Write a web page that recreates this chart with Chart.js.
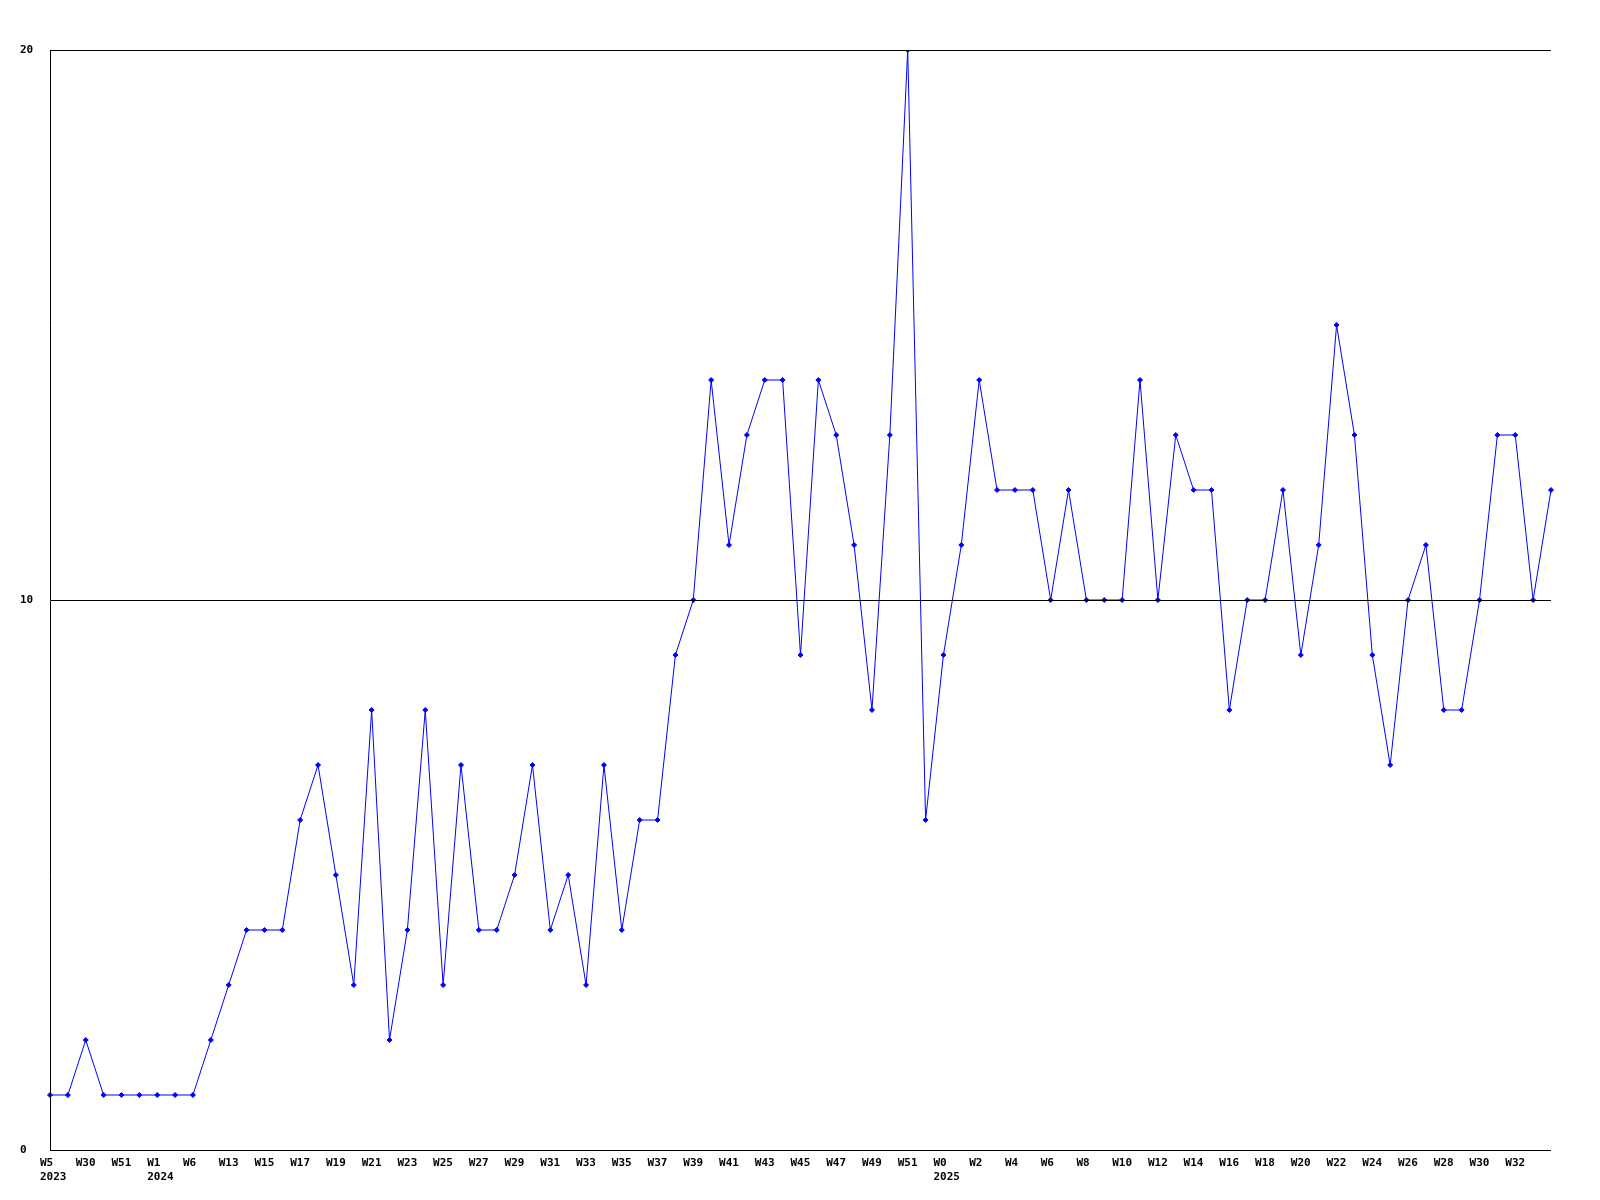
<!DOCTYPE html>
<html>
<head>
<meta charset="utf-8">
<script src="https://cdn.jsdelivr.net/npm/chart.js@4/dist/chart.umd.min.js"></script>
<style>
  body { margin: 0; background: #fff; }
  canvas { display: block; }
</style>
</head>
<body>
<canvas id="myChart" width="1600" height="1200"></canvas>
<script>
// tick labels (every second category is labelled in the original)
const weeks = [
  'W5', '', 'W30', '', 'W51', '', 'W1', '', 'W6', '',
  'W13', '', 'W15', '', 'W17', '', 'W19', '', 'W21', '',
  'W23', '', 'W25', '', 'W27', '', 'W29', '', 'W31', '',
  'W33', '', 'W35', '', 'W37', '', 'W39', '', 'W41', '',
  'W43', '', 'W45', '', 'W47', '', 'W49', '', 'W51', '',
  'W0', '', 'W2', '', 'W4', '', 'W6', '', 'W8', '',
  'W10', '', 'W12', '', 'W14', '', 'W16', '', 'W18', '',
  'W20', '', 'W22', '', 'W24', '', 'W26', '', 'W28', '',
  'W30', '', 'W32', '', ''
]
const years = { 0: '2023', 6: '2024', 50: '2025' }

const counts = [
  1, 1, 2, 1, 1, 1, 1, 1, 1, 2,
  3, 4, 4, 4, 6, 7, 5, 3, 8, 2,
  4, 8, 3, 7, 4, 4, 5, 7, 4, 5,
  3, 7, 4, 6, 6, 9, 10, 14, 11, 13,
  14, 14, 9, 14, 13, 11, 8, 13, 20, 6,
  9, 11, 14, 12, 12, 12, 10, 12, 10, 10,
  10, 14, 10, 13, 12, 12, 8, 10, 10, 12,
  9, 11, 15, 13, 9, 7, 10, 11, 8, 8,
  10, 13, 13, 10, 12
]

const tickFont = { family: 'DejaVu Sans Mono', size: 11, weight: 'bold' }

const ctx = document.getElementById('myChart')
new Chart(ctx, {
  type: 'line',
  data: {
    labels: weeks,
    datasets: [{
      data: counts,
      borderColor: '#0000ff',
      backgroundColor: '#0000ff',
      borderWidth: 1,
      pointStyle: 'rectRot',
      pointRadius: 2.5,
      pointBorderWidth: 1,
      tension: 0,
      fill: false
    }]
  },
  options: {
    responsive: false,
    animation: false,
    layout: { padding: { left: 20, right: 49, top: 50, bottom: 0 } },
    plugins: { legend: { display: false }, tooltip: { enabled: false } },
    scales: {
      x: {
        offset: false,
        grid: { display: false, drawTicks: false },
        border: { display: false },
        ticks: {
          autoSkip: false,
          maxRotation: 0,
          minRotation: 0,
          align: 'start',
          labelOffset: -10,
          padding: 7,
          color: '#000',
          font: tickFont,
          callback: function (v, i) {
            const w = weeks[i]
            if (!w) return ''
            return years[i] ? [w, years[i]] : w
          }
        },
        afterFit: function (s) { s.height = 50 }
      },
      y: {
        min: 0,
        max: 20,
        grid: { color: '#000', lineWidth: 1, drawTicks: false, z: 1 },
        border: { display: true, color: '#000', width: 1, z: 1 },
        ticks: {
          stepSize: 10,
          crossAlign: 'far',
          padding: 0,
          color: '#000',
          font: tickFont
        },
        afterFit: function (s) { s.width = 30 }
      }
    }
  }
})
</script>
</body>
</html>
